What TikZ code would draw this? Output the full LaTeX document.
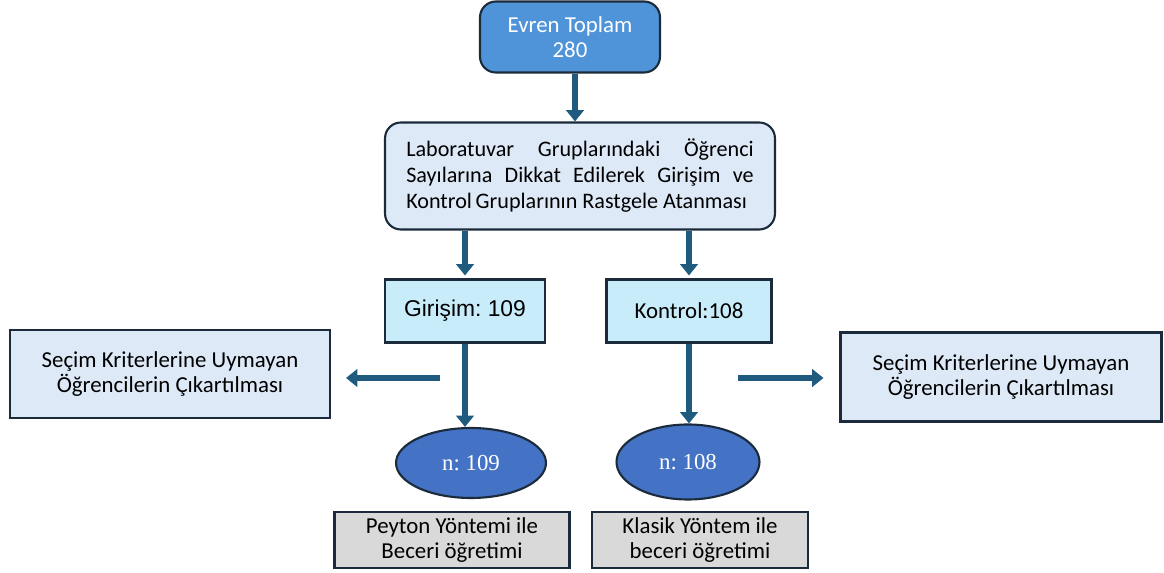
\documentclass[tikz,border=0pt]{standalone}
\usepackage{fontspec}
\setmainfont{Carlito}
\newfontfamily\timesfont{Liberation Serif}
\newfontfamily\arialfont{Liberation Sans}
\usetikzlibrary{arrows.meta,shapes.geometric}
\frenchspacing
\definecolor{topblue}{HTML}{4F94D9}
\definecolor{paleblue}{HTML}{DDE9F6}
\definecolor{cyanbox}{HTML}{C9ECFA}
\definecolor{ovalblue}{HTML}{4472C4}
\definecolor{greybox}{HTML}{D9D9D9}
\definecolor{edge}{HTML}{1B2B3B}
\definecolor{arrowcol}{HTML}{1F5B7E}
\definecolor{arrowedge}{HTML}{0E2A3C}
\begin{document}
\begin{tikzpicture}[x=0.02cm,y=-0.02cm,
    box/.style={draw=edge,line width=1.2pt,font=\fontsize{13}{14.5}\selectfont,align=center,inner sep=0pt},
    roundbox/.style={box,rounded corners=9pt},
    oval/.style={ellipse,draw=edge,line width=1.2pt,fill=ovalblue,text=white,font=\timesfont\fontsize{13}{14}\selectfont,inner sep=0pt},
    blockarrow/.style={draw=arrowcol,line width=3.2pt,-{Triangle[length=6.5pt,width=10pt]},
      preaction={draw=arrowedge,line width=5.2pt,-{Triangle[length=8.5pt,width=12.5pt]}}}]
  \useasboundingbox (0,0) rectangle (1164,573);
  % boxes
  \node[roundbox,fill=topblue,text=white,minimum width=3.6cm,minimum height=1.42cm] (evren) at (570,37) {Evren Toplam\\280};
  \node[roundbox,fill=paleblue,minimum width=7.8cm,minimum height=2.14cm,align=left,
    font=\fontsize{12.6}{14.8}\selectfont] (lab) at (580,176)
    {\hbox to 6.95cm{Laboratuvar\hfil Gruplarındaki\hfil Öğrenci}\\
     \hbox to 6.95cm{Sayılarına\hfil Dikkat\hfil Edilerek\hfil Girişim\hfil ve}\\
     \hbox to 6.95cm{Kontrol\,Gruplarının Rastgele Atanması\hfil}};
  \node[box,fill=cyanbox,minimum width=3.2cm,minimum height=1.26cm,font=\arialfont\fontsize{13}{14}\selectfont] (giris) at (465,311) {Girişim: 109};
  \node[box,fill=cyanbox,minimum width=3.3cm,minimum height=1.26cm] (kontrol) at (689,311) {Kontrol:108};
  \node[box,fill=paleblue,minimum width=6.4cm,minimum height=1.76cm] (secimL) at (170,374) {Seçim Kriterlerine Uymayan\\Öğrencilerin Çıkartılması};
  \node[box,fill=paleblue,minimum width=6.42cm,minimum height=1.78cm] (secimR) at (1001,377) {Seçim Kriterlerine Uymayan\\Öğrencilerin Çıkartılması};
  \node[oval,minimum width=3.0cm,minimum height=1.4cm] (n109) at (471,463) {n: 109};
  \node[oval,minimum width=2.86cm,minimum height=1.5cm] (n108) at (688,462) {n: 108};
  \node[box,fill=greybox,minimum width=4.7cm,minimum height=1.12cm] (peyton) at (452,540) {Peyton Yöntemi ile\\Beceri öğretimi};
  \node[box,fill=greybox,minimum width=4.32cm,minimum height=1.12cm] (klasik) at (700,540) {Klasik Yöntem ile\\beceri öğretimi};
  \coordinate (lstart) at (440,378);
  \coordinate (rstart) at (738,378);
  % arrows
  \begin{scope}[blockarrow]
    \draw ([xshift=0.1cm]evren.south) -- ([xshift=0.1cm]evren.south |- lab.north);
    \draw (giris.north |- lab.south) -- ([yshift=0.06cm]giris.north);
    \draw (kontrol.north |- lab.south) -- ([yshift=0.06cm]kontrol.north);
    \draw (giris.south) -- (giris.south |- n109.north);
    \draw (kontrol.south) -- (kontrol.south |- n108.north);
    \draw[shorten >=0.3cm] (lstart) -- (lstart -| secimL.east);
    \draw[shorten >=0.32cm] (rstart) -- (rstart -| secimR.west);
  \end{scope}
\end{tikzpicture}
\end{document}
